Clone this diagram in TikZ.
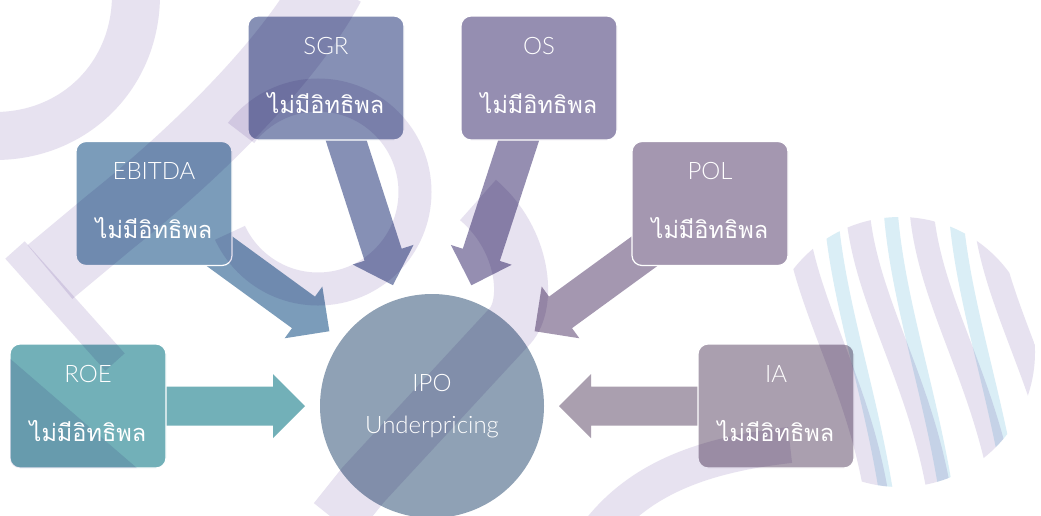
\documentclass[tikz,border=0pt]{standalone}
\usepackage{fontspec}
\IfFontExistsTF{Lato Light}{\setmainfont{Lato Light}}{\setmainfont{Lato}}
\newfontfamily\thaifont[Script=Thai]{Loma}
\usetikzlibrary{calc}

\definecolor{roec}{HTML}{72B0B8}
\definecolor{ebitdac}{HTML}{7B9CBA}
\definecolor{sgrc}{HTML}{8690B5}
\definecolor{osc}{HTML}{958EB1}
\definecolor{polc}{HTML}{A497B0}
\definecolor{iac}{HTML}{AA9FAF}
\definecolor{ipoc}{HTML}{8FA1B5}
\definecolor{lav}{HTML}{E7E2F0}
\definecolor{sky}{HTML}{DAEEF6}

\pgfdeclarelayer{paper}
\pgfdeclarelayer{arrowlayer}
\pgfdeclarelayer{marks}
\pgfdeclarelayer{labels}
\pgfsetlayers{paper,arrowlayer,main,marks,labels}

\begin{document}
\begin{tikzpicture}[x=1pt,y=-1pt,
  factorbox/.style={draw=white, line width=1.2pt, rounded corners=10pt,
    minimum width=156pt, minimum height=124pt, inner sep=0pt, outer sep=0pt},
  hub/.style={circle, minimum size=224pt, inner sep=0pt, outer sep=0pt},
  ttl/.style={text=white, font=\fontsize{24}{28}\selectfont, anchor=base, inner sep=0pt},
  eff/.style={text=white, font=\thaifont\fontsize{23.5}{28}\selectfont, anchor=base, inner sep=0pt},
  wmk/.style={draw=lav, line cap=butt},
  ribbon/.style={draw=lav, line width=24pt, line cap=round},
  thread/.style={draw=sky, line width=14pt, line cap=round}]

\useasboundingbox (0,0) rectangle (1041,515);
\begin{pgfonlayer}{paper}
  \fill[white] (0,0) rectangle (1041,515);
\end{pgfonlayer}

% central outcome
\node[hub, fill=ipoc] (ipo) at (432,406) {};

% the six factors
\node[factorbox, fill=roec]    (roe)    at (88,406)  {};
\node[factorbox, fill=ebitdac] (ebitda) at (154,203.5) {};
\node[factorbox, fill=sgrc]    (sgr)    at (326,78)  {};
\node[factorbox, fill=osc]     (os)     at (539,78)  {};
\node[factorbox, fill=polc]    (pol)    at (710,203.5) {};
\node[factorbox, fill=iac]     (ia)     at (776,406) {};

% block arrows from each factor towards the hub
\begin{pgfonlayer}{arrowlayer}
\foreach \b/\c in {roe/roec, ebitda/ebitdac, sgr/sgrc, os/osc, pol/polc, ia/iac}{
  \path let \p1=($(\b.center)-(ipo.center)$), \n1={atan2(\y1,\x1)} in
    \pgfextra{\xdef\arrang{\n1}};
  \begin{scope}[shift={(ipo.center)}, rotate=\arrang]
    \fill[\c] (127,0) -- (159,32) -- (159,19.5) -- (300,19.5)
      -- (300,-19.5) -- (159,-19.5) -- (159,-32) -- cycle;
  \end{scope}
}
\end{pgfonlayer}

% background emblem strokes, blended over everything
\begin{pgfonlayer}{marks}
\begin{scope}[blend mode=multiply]
  \draw[wmk, line width=48pt] (136,-5) .. controls (136,75) and (75,136) .. (-5,136);
  \draw[wmk, line width=70pt] (330,-15) .. controls (290,60) and (200,150) .. (110,222) -- (50,272);
  \draw[wmk, line width=26pt] (15,250) -- (115,362);
  \begin{scope}
    \clip (318,192) -- (180,256) -- (180,600) -- (1100,600) -- (1100,-50)
      -- (180,-50) -- (180,86) -- cycle;
    \draw[wmk, line width=33pt] (318,192) circle[radius=97pt];
  \end{scope}
  \draw[wmk, line width=54pt] (478,200) .. controls (525,240) and (530,304) .. (510,326)
    -- (363,485) -- (335,520);
  \draw[wmk, line width=36pt] (600,530) .. controls (640,480) and (700,455) .. (790,445);
  \begin{scope}
    \clip[rounded corners=10pt] (10,344) rectangle (166,468);
    \fill[lav] (0,350) -- (145,475) -- (0,475) -- cycle;
  \end{scope}
  % ribbon globe
  \begin{scope}
    \clip (900,352) circle[radius=135pt];
    \foreach \x in {830,890,955}{
      \draw[thread] (\x,200) .. controls (\x+5,300) and (\x+45,400) .. (\x+60,520);
    }
    \foreach \x in {795,858,922,985}{
      \draw[ribbon] (\x,215) .. controls (\x+10,310) and (\x+70,390) .. (\x+85,520);
    }
  \end{scope}
\end{scope}
\end{pgfonlayer}

% texts
\begin{pgfonlayer}{labels}
\node[ttl] (ipo-a) at (432,391) {IPO};
\node[ttl] (ipo-b) at (432,433) {Underpricing};
\foreach \b/\t in {roe/ROE, ebitda/EBITDA, sgr/SGR, os/OS, pol/POL, ia/IA}{
  \node[ttl] (\b-t) at ($(\b.center)+(0,-24)$) {\t};
  \node[eff] (\b-e) at ($(\b.center)+(0,35)$) {ไม่มีอิทธิพล};
}
\end{pgfonlayer}
\end{tikzpicture}
\end{document}
